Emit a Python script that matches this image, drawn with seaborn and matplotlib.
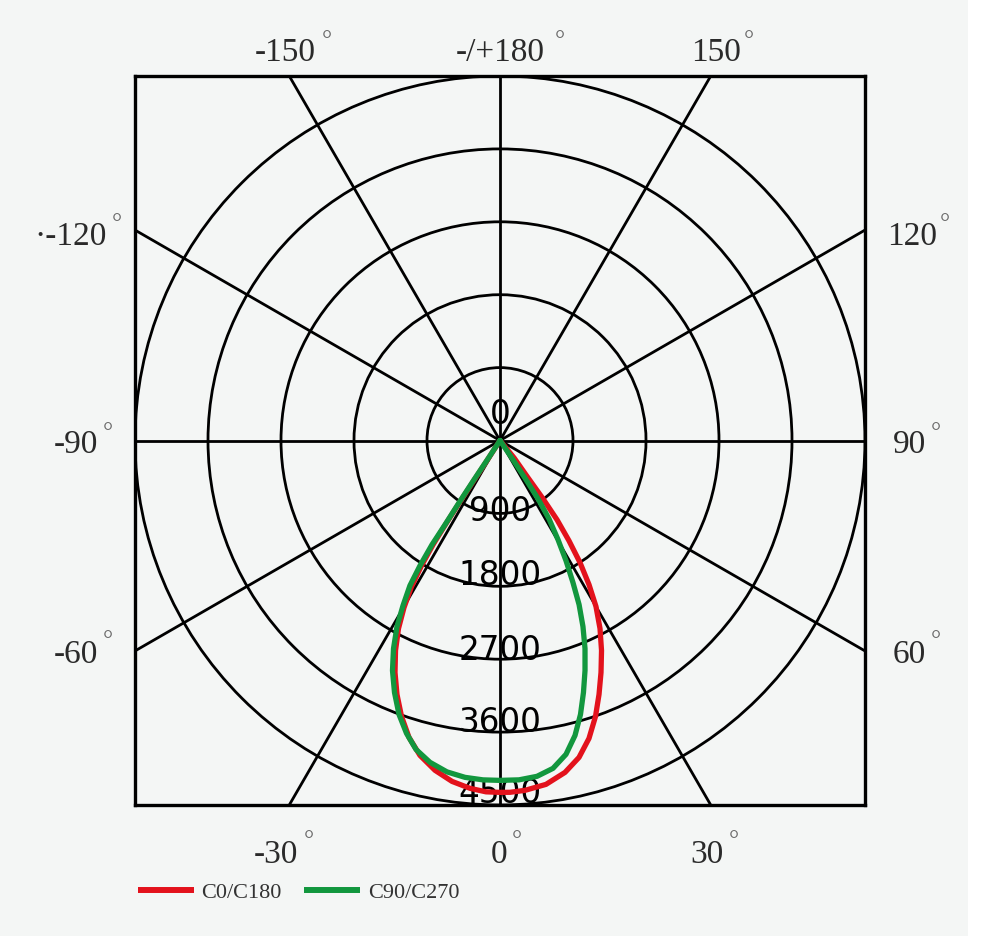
import numpy as np
import pandas as pd
import matplotlib
matplotlib.use("Agg")
import matplotlib.pyplot as plt
from matplotlib.patches import Circle, Rectangle
import seaborn as sns

# ---------------- data ----------------
SERIES = ["C0/C180", "C90/C270"]

# gamma angle (deg, negative = left half) and intensity (cd)
RED_GAMMA = [-33.0, -32.9, -33.1, -33.1, -32.96, -32.7, -32.07, -31.17, -29.85, -28.33,
             -26.42, -24.32, -22.05, -19.62, -17.02, -14.24, -11.13, -8.0, -4.92, -2.28,
             0.0, 1.63, 4.08, 7.61, 11.07, 13.98, 16.61, 19.07, 21.27, 23.5,
             25.77, 27.97, 30.0, 31.67, 33.2, 34.5, 35.7, 36.4, 36.9, 39.0, 39.0]
RED_CD = [0, 261, 564, 902, 1224, 1528, 1823, 2108, 2378, 2637,
          2895, 3143, 3383, 3616, 3833, 4011, 4150, 4250, 4310, 4341,
          4344, 4345, 4330, 4283, 4175, 4032, 3838, 3604, 3365, 3123,
          2879, 2629, 2367, 2090, 1802, 1501, 1204, 893, 575, 274, 0]

GREEN_GAMMA = [-33.5, -33.3, -33.5, -33.35, -33.1, -33.1, -32.55, -31.8, -30.4, -28.94,
               -27.07, -25.02, -22.69, -20.21, -17.68, -15.19, -12.25, -9.08, -5.92, -2.86,
               0.0, 3.2, 6.28, 9.17, 11.86, 14.25, 16.35, 18.3, 20.26, 22.2,
               24.0, 25.7, 27.15, 28.75, 30.3, 32.0, 33.1, 33.6, 34.0, 34.0]
GREEN_CD = [0, 270, 581, 920, 1241, 1535, 1833, 2107, 2363, 2625,
            2885, 3134, 3372, 3604, 3795, 3952, 4066, 4143, 4181, 4195,
            4196, 4196, 4171, 4100, 3959, 3757, 3525, 3277, 3027, 2774,
            2515, 2248, 1972, 1692, 1418, 1139, 858, 557, 265, 0]

RING_VALUES = [0, 900, 1800, 2700, 3600, 4500]
SPOKE_ANGLES = [0, 30, 60, 90, 120, 150]
ANGLE_LABELS = ["-150", "-/+180", "150", "·-120", "120", "-90", "90",
                "-60", "60", "-30", "0", "30"]

# ---------------- layout / style ----------------
W, H = 1000, 937
BG = "#f4f6f5"
RED = "#e3121c"
GREEN = "#12973e"
R_MAX = 4500
PX_UNIT = R_MAX / 365.0   # cd per pixel

# (x_px, baseline_px, ha) for each angle label; (x_px, y_px) centre of its degree sign
LABEL_POS = [(285, 61, "center"), (500, 61, "center"), (716, 61, "center"),
             (107, 245, "right"), (887, 245, "left"),
             (98, 453, "right"), (893, 453, "left"),
             (98, 663, "right"), (893, 663, "left"),
             (276, 863, "center"), (499, 863, "center"), (707, 863, "center")]
DEG_POS = [(327, 34), (560, 34), (749, 34),
           (117, 217), (945, 217),
           (108, 426), (936, 426),
           (108, 634), (936, 634),
           (309, 834), (517, 834), (734, 834)]
RING_DY_PX = [18, -7, 2, 0, 1, 3]

sns.set_theme(style="white")
plt.rcParams["font.family"] = ["DejaVu Sans"]

fig = plt.figure(figsize=(W / 100, H / 100), dpi=100, facecolor=BG)
fig.add_artist(Rectangle((968 / W, 0), 1 - 968 / W, 1, transform=fig.transFigure,
                         facecolor="white", edgecolor="none", zorder=-5))
ax = fig.add_axes([135 / W, 1 - 806 / H, 730 / W, 729 / H])
ax.set_facecolor(BG)


def to_xy(gamma, cd):
    g = np.deg2rad(np.asarray(gamma, dtype=float))
    r = np.asarray(cd, dtype=float)
    return r * np.sin(g), -r * np.cos(g)


frames = []
for name, gam, cd in [(SERIES[0], RED_GAMMA, RED_CD), (SERIES[1], GREEN_GAMMA, GREEN_CD)]:
    x, y = to_xy(gam, cd)
    frames.append(pd.DataFrame({"x": x, "y": y, "series": name}))
df = pd.concat(frames, ignore_index=True)

# grid: circles and spokes
for r in RING_VALUES[1:]:
    ax.add_patch(Circle((0, 0), r, fill=False, ec="black", lw=2.0, zorder=2))
for a in SPOKE_ANGLES:
    rad = np.deg2rad(a)
    ax.axline((0, 0), (np.sin(rad), np.cos(rad)), color="black", lw=2.0, zorder=2)

# ring labels
for v, dy in zip(RING_VALUES, RING_DY_PX):
    ax.text(0, -v + dy * PX_UNIT, str(v), ha="center", va="baseline",
            fontsize=23.5, family="DejaVu Sans", color="black", zorder=3)

sns.lineplot(data=df, x="x", y="y", hue="series", palette=[RED, GREEN],
             sort=False, estimator=None, lw=3.8, ax=ax, zorder=5,
             solid_joinstyle="round", solid_capstyle="round")

ax.set_xlim(-R_MAX, R_MAX)
ax.set_ylim(-R_MAX, R_MAX)
ax.set_xticks([])
ax.set_yticks([])
ax.set_xlabel("")
ax.set_ylabel("")
for s in ax.spines.values():
    s.set_visible(True)
    s.set_color("black")
    s.set_linewidth(2.4)

# angle labels
for lab, (xp, yp, ha), (dxp, dyp) in zip(ANGLE_LABELS, LABEL_POS, DEG_POS):
    fig.text(xp / W, 1 - yp / H, lab, ha=ha, va="baseline", fontsize=24,
             family="Liberation Serif", color="#2a2a2a")
    fig.text(dxp / W, 1 - (dyp + 13) / H, "°", ha="center", va="baseline",
             fontsize=18, family="Liberation Serif", color="#6a6a6a")

# legend
leg = ax.get_legend()
handles = leg.legend_handles
labels = [t.get_text() for t in leg.get_texts()]
leg.remove()
newleg = fig.legend(handles, labels, loc="center left",
                    bbox_to_anchor=(138 / W, 1 - 893 / H), bbox_transform=fig.transFigure,
                    ncol=2, frameon=False, handlelength=2.5, handletextpad=0.36,
                    columnspacing=1.0, borderpad=0, borderaxespad=0,
                    prop={"family": "Liberation Serif", "size": 16})
for ln in newleg.get_lines():
    ln.set_linewidth(4.3)
    ln.set_solid_capstyle("butt")
for t in newleg.get_texts():
    t.set_color("#333333")

fig.savefig("out.png", dpi=100, facecolor=fig.get_facecolor())
